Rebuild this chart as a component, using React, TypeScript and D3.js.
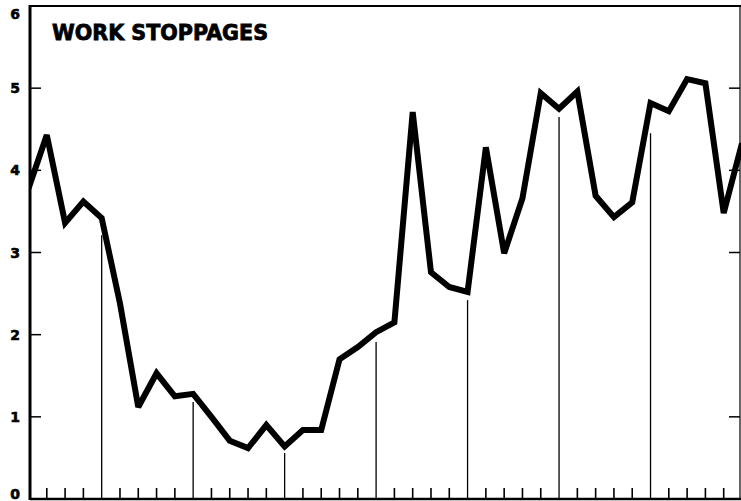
import React from "react";
import * as d3 from "d3";

const title = "WORK STOPPAGES";
const yTickValues = [0, 1, 2, 3, 4, 5, 6];
const rightTickValues = [1, 3, 4, 5];
const values = [
  3.78, 4.43, 3.36, 3.62, 3.42, 2.38, 1.12, 1.53, 1.25, 1.28,
  1.0, 0.71, 0.62, 0.9, 0.64, 0.84, 0.84, 1.7, 1.85, 2.03,
  2.15, 4.71, 2.76, 2.58, 2.52, 4.28, 2.99, 3.66, 4.94, 4.75,
  4.96, 3.69, 3.43, 3.61, 4.82, 4.72, 5.11, 5.06, 3.48, 4.33,
];
const yearLineIndex = [4, 9, 14, 19, 24, 29, 34];
const yearLineTops = [3.21, 1.18, 0.56, 1.91, 2.42, 4.65, 4.45];

const W = 741;
const H = 501;

export default function App() {
  const x = d3.scaleLinear().domain([0, values.length - 1]).range([28.5, 742]);
  const y = d3.scaleLinear().domain([0, 6]).range([499, 6]);
  const line = d3
    .line<number>()
    .x((_, i) => x(i))
    .y((d) => y(d))
    .curve(d3.curveLinear);

  const left = 30;
  const right = 740;
  const font = "'DejaVu Sans', 'Liberation Sans', sans-serif";

  return (
    <svg
      width={W}
      height={H}
      style={{ position: "absolute", left: 0, top: 0, background: "#fff" }}
    >
      <rect x={0} y={0} width={W} height={H} fill="#fff" />
      <defs>
        <clipPath id="plot">
          <rect x={left} y={0} width={W - left} height={H} />
        </clipPath>
      </defs>
      {/* frame */}
      <line x1={left} x2={left} y1={y(6) - 1} y2={y(0) + 1} stroke="#000" strokeWidth={3} />
      <line x1={left} x2={W} y1={y(6)} y2={y(6)} stroke="#000" strokeWidth={2} />
      <line x1={left} x2={W} y1={y(0)} y2={y(0)} stroke="#000" strokeWidth={2.4} />
      <line x1={right} x2={right} y1={y(6)} y2={y(0)} stroke="#000" strokeWidth={1.2} />
      {/* left y ticks */}
      {yTickValues.slice(1, 6).map((v) => (
        <line key={"lt" + v} x1={left} x2={left + 11} y1={y(v)} y2={y(v)} stroke="#000" strokeWidth={1.5} />
      ))}
      {rightTickValues.map((v) => (
        <line key={"rt" + v} x1={right - 11} x2={right} y1={y(v)} y2={y(v)} stroke="#000" strokeWidth={1.5} />
      ))}
      {/* y labels */}
      {yTickValues.map((v) => (
        <text
          key={"yl" + v}
          x={15}
          y={Math.min(Math.max(y(v), 14), 494)}
          dy="0.36em"
          textAnchor="middle"
          fontFamily={font}
          fontWeight="bold"
          fontSize={14}
          fill="#000"
          stroke="#000"
          strokeWidth={0.6}
        >
          {v}
        </text>
      ))}
      {/* minor ticks at bottom */}
      {values.map((_, i) =>
        i === 0 || yearLineIndex.includes(i) || i === values.length - 1 ? null : (
          <line key={"mt" + i} x1={x(i)} x2={x(i)} y1={y(0)} y2={y(0) - 11} stroke="#000" strokeWidth={1.6} />
        )
      )}
      {/* year lines */}
      {yearLineIndex.map((idx, k) => (
        <line
          key={"yr" + idx}
          x1={x(idx)}
          x2={x(idx)}
          y1={y(0)}
          y2={y(yearLineTops[k])}
          stroke="#000"
          strokeWidth={1.3}
        />
      ))}
      {/* data line */}
      <path
        d={line(values) || ""}
        fill="none"
        stroke="#000"
        strokeWidth={6}
        strokeLinejoin="miter"
        strokeMiterlimit={3}
        clipPath="url(#plot)"
      />
      {/* title */}
      <text
        x={52}
        y={40}
        fontFamily={font}
        fontWeight="bold"
        fontSize={21}
        textLength={216}
        lengthAdjust="spacingAndGlyphs"
        fill="#000"
        stroke="#000"
        strokeWidth={0.8}
      >
        {title}
      </text>
    </svg>
  );
}
